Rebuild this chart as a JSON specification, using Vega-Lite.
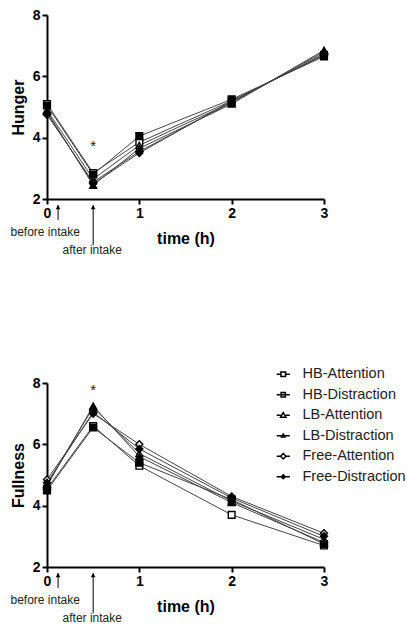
{
  "$schema": "https://vega.github.io/schema/vega-lite/v6.json",
  "padding": {"left": 10, "top": 8, "right": 0, "bottom": 0},
  "background": "white",
  "config": {
    "font": "Liberation Sans",
    "view": {"stroke": null},
    "axis": {
      "grid": false,
      "domainColor": "black",
      "domainWidth": 2,
      "tickColor": "black",
      "tickWidth": 2,
      "tickSize": 5,
      "labelFont": "Liberation Sans",
      "labelFontWeight": "bold",
      "labelFontSize": 14,
      "labelColor": "black",
      "labelPadding": 2,
      "titleFont": "Liberation Sans",
      "titleFontWeight": "bold",
      "titleFontSize": 16,
      "titleColor": "black"
    }
  },
  "datasets": {
    "hunger": [
      {"series": "HB-Attention", "time": 0, "value": 5.1},
      {"series": "HB-Attention", "time": 0.5, "value": 2.85},
      {"series": "HB-Attention", "time": 1, "value": 3.85},
      {"series": "HB-Attention", "time": 2, "value": 5.2},
      {"series": "HB-Attention", "time": 3, "value": 6.7},
      {"series": "HB-Distraction", "time": 0, "value": 5.05},
      {"series": "HB-Distraction", "time": 0.5, "value": 2.8},
      {"series": "HB-Distraction", "time": 1, "value": 4.05},
      {"series": "HB-Distraction", "time": 2, "value": 5.25},
      {"series": "HB-Distraction", "time": 3, "value": 6.65},
      {"series": "LB-Attention", "time": 0, "value": 4.9},
      {"series": "LB-Attention", "time": 0.5, "value": 2.65},
      {"series": "LB-Attention", "time": 1, "value": 3.75},
      {"series": "LB-Attention", "time": 2, "value": 5.15},
      {"series": "LB-Attention", "time": 3, "value": 6.8},
      {"series": "LB-Distraction", "time": 0, "value": 4.85},
      {"series": "LB-Distraction", "time": 0.5, "value": 2.45},
      {"series": "LB-Distraction", "time": 1, "value": 3.65},
      {"series": "LB-Distraction", "time": 2, "value": 5.1},
      {"series": "LB-Distraction", "time": 3, "value": 6.85},
      {"series": "Free-Attention", "time": 0, "value": 4.75},
      {"series": "Free-Attention", "time": 0.5, "value": 2.55},
      {"series": "Free-Attention", "time": 1, "value": 3.55},
      {"series": "Free-Attention", "time": 2, "value": 5.15},
      {"series": "Free-Attention", "time": 3, "value": 6.75},
      {"series": "Free-Distraction", "time": 0, "value": 4.8},
      {"series": "Free-Distraction", "time": 0.5, "value": 2.5},
      {"series": "Free-Distraction", "time": 1, "value": 3.5},
      {"series": "Free-Distraction", "time": 2, "value": 5.2},
      {"series": "Free-Distraction", "time": 3, "value": 6.7}
    ],
    "fullness": [
      {"series": "HB-Attention", "time": 0, "value": 4.55},
      {"series": "HB-Attention", "time": 0.5, "value": 6.6},
      {"series": "HB-Attention", "time": 1, "value": 5.3},
      {"series": "HB-Attention", "time": 2, "value": 3.7},
      {"series": "HB-Attention", "time": 3, "value": 2.7},
      {"series": "HB-Distraction", "time": 0, "value": 4.5},
      {"series": "HB-Distraction", "time": 0.5, "value": 6.55},
      {"series": "HB-Distraction", "time": 1, "value": 5.4},
      {"series": "HB-Distraction", "time": 2, "value": 4.2},
      {"series": "HB-Distraction", "time": 3, "value": 2.75},
      {"series": "LB-Attention", "time": 0, "value": 4.7},
      {"series": "LB-Attention", "time": 0.5, "value": 7.2},
      {"series": "LB-Attention", "time": 1, "value": 5.7},
      {"series": "LB-Attention", "time": 2, "value": 4.15},
      {"series": "LB-Attention", "time": 3, "value": 2.9},
      {"series": "LB-Distraction", "time": 0, "value": 4.65},
      {"series": "LB-Distraction", "time": 0.5, "value": 7.25},
      {"series": "LB-Distraction", "time": 1, "value": 5.6},
      {"series": "LB-Distraction", "time": 2, "value": 4.1},
      {"series": "LB-Distraction", "time": 3, "value": 2.8},
      {"series": "Free-Attention", "time": 0, "value": 4.85},
      {"series": "Free-Attention", "time": 0.5, "value": 7.0},
      {"series": "Free-Attention", "time": 1, "value": 6.0},
      {"series": "Free-Attention", "time": 2, "value": 4.3},
      {"series": "Free-Attention", "time": 3, "value": 3.1},
      {"series": "Free-Distraction", "time": 0, "value": 4.75},
      {"series": "Free-Distraction", "time": 0.5, "value": 7.05},
      {"series": "Free-Distraction", "time": 1, "value": 5.85},
      {"series": "Free-Distraction", "time": 2, "value": 4.25},
      {"series": "Free-Distraction", "time": 3, "value": 3.0}
    ],
    "arrows": [
      {"time": 0.12, "value": 1.8, "value2": 1.32},
      {"time": 0.5, "value": 1.8, "value2": 0.5}
    ],
    "notes": [
      {"time": -0.02, "value": 0.92, "label": "before intake"},
      {"time": 0.49, "value": 0.34, "label": "after intake"}
    ],
    "star1": [{"time": 0.5, "value": 3.73, "label": "*"}],
    "star2": [{"time": 0.5, "value": 7.77, "label": "*"}]
  },
  "spacing": 184,
  "bounds": "flush",
  "vconcat": [
    {
      "width": 277,
      "height": 184,
      "layer": [
        {
          "data": {"name": "hunger"},
          "mark": {"type": "line", "stroke": "#444", "strokeWidth": 1, "clip": false},
          "encoding": {
            "x": {"field": "time", "type": "quantitative", "scale": {"domain": [0, 3], "nice": false}, "axis": {"values": [0, 1, 2, 3], "format": "d", "title": "time (h)", "titlePadding": 10, "labelFlush": false}},
            "y": {"field": "value", "type": "quantitative", "scale": {"domain": [2, 8], "nice": false, "zero": false}, "axis": {"values": [2, 4, 6, 8], "format": "d", "title": "Hunger", "titlePadding": 6}},
            "detail": {"field": "series"}
          }
        },
        {
          "data": {"name": "hunger"},
          "mark": {"type": "point", "filled": true, "stroke": "black", "strokeWidth": 1.4, "opacity": 1, "clip": false},
          "encoding": {
            "x": {"field": "time", "type": "quantitative"},
            "y": {"field": "value", "type": "quantitative"},
            "shape": {"field": "series", "type": "nominal", "legend": null, "scale": {"domain": ["HB-Attention", "HB-Distraction", "LB-Attention", "LB-Distraction", "Free-Attention", "Free-Distraction"], "range": ["square", "square", "triangle-up", "triangle-up", "diamond", "diamond"]}},
            "fill": {"field": "series", "type": "nominal", "legend": null, "scale": {"domain": ["HB-Attention", "HB-Distraction", "LB-Attention", "LB-Distraction", "Free-Attention", "Free-Distraction"], "range": ["white", "black", "white", "black", "white", "black"]}},
            "size": {"field": "series", "type": "nominal", "legend": null, "scale": {"domain": ["HB-Attention", "HB-Distraction", "LB-Attention", "LB-Distraction", "Free-Attention", "Free-Distraction"], "range": [45, 50, 55, 28, 55, 34]}}
          }
        },
        {
          "data": {"name": "arrows"},
          "mark": {"type": "rule", "stroke": "black", "strokeWidth": 1, "clip": false},
          "encoding": {
            "x": {"field": "time", "type": "quantitative"},
            "y": {"field": "value", "type": "quantitative"},
            "y2": {"field": "value2"}
          }
        },
        {
          "data": {"name": "arrows"},
          "mark": {"type": "point", "shape": "triangle-up", "filled": true, "color": "black", "size": 22, "opacity": 1, "clip": false, "yOffset": 2},
          "encoding": {
            "x": {"field": "time", "type": "quantitative"},
            "y": {"field": "value", "type": "quantitative"}
          }
        },
        {
          "data": {"name": "notes"},
          "mark": {"type": "text", "fontSize": 12, "color": "#222", "align": "center", "baseline": "middle", "clip": false},
          "encoding": {
            "x": {"field": "time", "type": "quantitative"},
            "y": {"field": "value", "type": "quantitative"},
            "text": {"field": "label"}
          }
        },
        {
          "data": {"name": "star1"},
          "mark": {"type": "text", "fontSize": 15, "color": "#222", "align": "center", "baseline": "middle", "clip": false},
          "encoding": {
            "x": {"field": "time", "type": "quantitative"},
            "y": {"field": "value", "type": "quantitative"},
            "text": {"field": "label"}
          }
        }
      ]
    },
    {
      "width": 277,
      "height": 184,
      "resolve": {"scale": {"shape": "independent", "fill": "independent", "size": "independent"}},
      "layer": [
        {
          "data": {"name": "fullness"},
          "mark": {"type": "line", "stroke": "#444", "strokeWidth": 1, "clip": false},
          "encoding": {
            "x": {"field": "time", "type": "quantitative", "scale": {"domain": [0, 3], "nice": false}, "axis": {"values": [0, 1, 2, 3], "format": "d", "title": "time (h)", "titlePadding": 10, "labelFlush": false}},
            "y": {"field": "value", "type": "quantitative", "scale": {"domain": [2, 8], "nice": false, "zero": false}, "axis": {"values": [2, 4, 6, 8], "format": "d", "title": "Fullness", "titlePadding": 6}},
            "detail": {"field": "series"}
          }
        },
        {
          "data": {"name": "fullness"},
          "mark": {"type": "point", "filled": true, "stroke": "black", "strokeWidth": 1.4, "opacity": 1, "clip": false},
          "encoding": {
            "x": {"field": "time", "type": "quantitative"},
            "y": {"field": "value", "type": "quantitative"},
            "shape": {"field": "series", "type": "nominal", "legend": null, "scale": {"domain": ["HB-Attention", "HB-Distraction", "LB-Attention", "LB-Distraction", "Free-Attention", "Free-Distraction"], "range": ["square", "square", "triangle-up", "triangle-up", "diamond", "diamond"]}},
            "fill": {"field": "series", "type": "nominal", "legend": null, "scale": {"domain": ["HB-Attention", "HB-Distraction", "LB-Attention", "LB-Distraction", "Free-Attention", "Free-Distraction"], "range": ["white", "black", "white", "black", "white", "black"]}},
            "size": {"field": "series", "type": "nominal", "legend": null, "scale": {"domain": ["HB-Attention", "HB-Distraction", "LB-Attention", "LB-Distraction", "Free-Attention", "Free-Distraction"], "range": [45, 50, 55, 28, 55, 34]}}
          }
        },
        {
          "data": {"name": "fullness"},
          "mark": {"type": "point", "filled": true, "stroke": "black", "strokeWidth": 1.2, "opacity": 0, "size": 60, "clip": false},
          "encoding": {
            "x": {"field": "time", "type": "quantitative"},
            "y": {"field": "value", "type": "quantitative"},
            "shape": {"field": "series", "type": "nominal", "scale": {"domain": ["HB-Attention", "HB-Distraction", "LB-Attention", "LB-Distraction", "Free-Attention", "Free-Distraction"], "range": ["M-1.7,0H-0.6M0.6,0H1.7M-0.6,-0.6H0.6V0.6H-0.6Z", "M-1.7,0H1.7M-0.55,-0.55H0.55V0.55H-0.55Z", "M-1.7,0H-0.65M0.65,0H1.7M0,-0.7L0.7,0.5H-0.7Z", "M-1.7,0H1.7M0,-0.45L0.45,0.35H-0.45Z", "M-1.7,0H-0.7M0.7,0H1.7M0,-0.7L0.7,0L0,0.7L-0.7,0Z", "M-1.7,0H1.7M0,-0.5L0.5,0L0,0.5L-0.5,0Z"]},
              "legend": {"title": null, "orient": "none", "legendX": 229, "legendY": -16, "symbolSize": 60, "labelFont": "Liberation Sans", "labelFontSize": 14.5, "labelColor": "#222", "labelLimit": 400, "rowPadding": 5.5, "labelOffset": 12,
                "encode": {"symbols": {"update": {"stroke": {"value": "black"}, "strokeWidth": {"value": 1.2}, "opacity": {"value": 1}, "strokeOpacity": {"value": 1}, "fillOpacity": {"value": 1}}}}}},
            "fill": {"field": "series", "type": "nominal", "scale": {"domain": ["HB-Attention", "HB-Distraction", "LB-Attention", "LB-Distraction", "Free-Attention", "Free-Distraction"], "range": ["white", "black", "white", "black", "white", "black"]},
              "legend": {"title": null, "orient": "none", "legendX": 229, "legendY": -16, "symbolSize": 60, "labelFont": "Liberation Sans", "labelFontSize": 14.5, "labelColor": "#222", "labelLimit": 400, "rowPadding": 5.5, "labelOffset": 12,
                "encode": {"symbols": {"update": {"stroke": {"value": "black"}, "strokeWidth": {"value": 1.2}, "opacity": {"value": 1}, "strokeOpacity": {"value": 1}, "fillOpacity": {"value": 1}}}}}}
          }
        },
        {
          "data": {"name": "arrows"},
          "mark": {"type": "rule", "stroke": "black", "strokeWidth": 1, "clip": false},
          "encoding": {
            "x": {"field": "time", "type": "quantitative"},
            "y": {"field": "value", "type": "quantitative"},
            "y2": {"field": "value2"}
          }
        },
        {
          "data": {"name": "arrows"},
          "mark": {"type": "point", "shape": "triangle-up", "filled": true, "color": "black", "size": 22, "opacity": 1, "clip": false, "yOffset": 2},
          "encoding": {
            "x": {"field": "time", "type": "quantitative"},
            "y": {"field": "value", "type": "quantitative"}
          }
        },
        {
          "data": {"name": "notes"},
          "mark": {"type": "text", "fontSize": 12, "color": "#222", "align": "center", "baseline": "middle", "clip": false},
          "encoding": {
            "x": {"field": "time", "type": "quantitative"},
            "y": {"field": "value", "type": "quantitative"},
            "text": {"field": "label"}
          }
        },
        {
          "data": {"name": "star2"},
          "mark": {"type": "text", "fontSize": 15, "color": "#222", "align": "center", "baseline": "middle", "clip": false},
          "encoding": {
            "x": {"field": "time", "type": "quantitative"},
            "y": {"field": "value", "type": "quantitative"},
            "text": {"field": "label"}
          }
        }
      ]
    }
  ]
}
